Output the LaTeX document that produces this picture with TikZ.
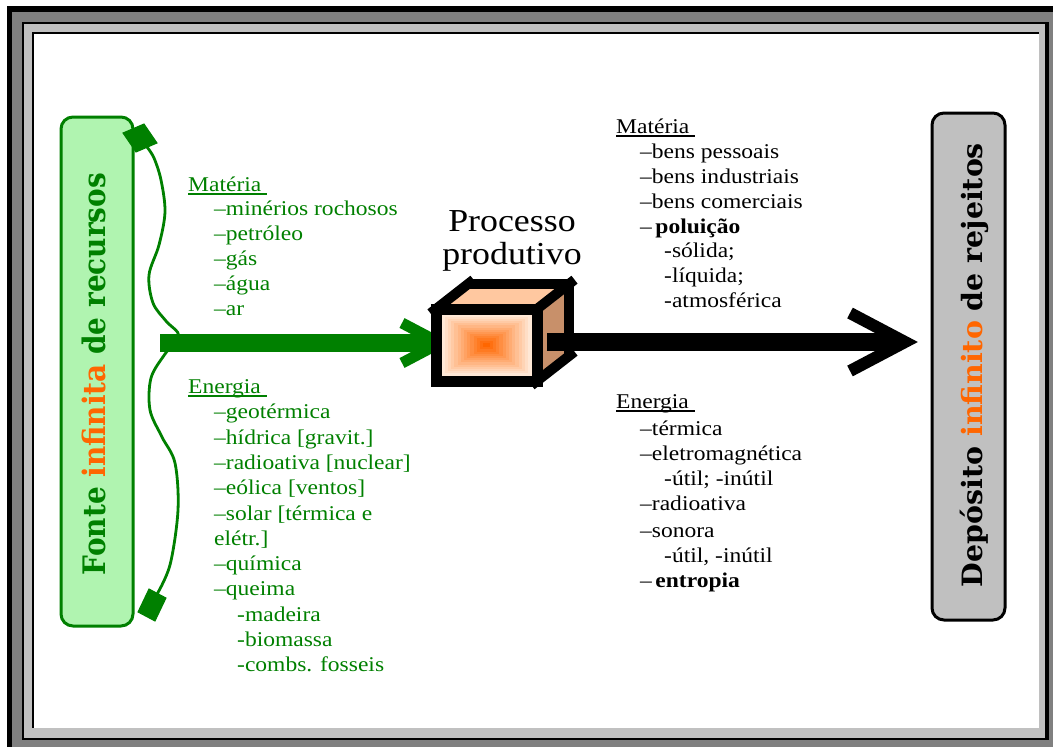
\documentclass[tikz,border=0pt]{standalone}
\usepackage{fontspec}
\setmainfont{Liberation Serif}[FakeStretch=1.12]
\newfontfamily\slabfont{DejaVu Serif}
\usetikzlibrary{calc}

\definecolor{leafgreen}{RGB}{0,128,0}
\definecolor{flame}{RGB}{255,102,0}
\definecolor{frameGray}{RGB}{128,128,128}
\definecolor{frameLight}{RGB}{192,192,192}
\definecolor{peach}{RGB}{255,200,160}
\definecolor{boxtan}{RGB}{200,144,106}
\definecolor{paleorange}{RGB}{255,232,214}
\definecolor{palegreen}{RGB}{176,244,176}
\definecolor{mistgreen}{RGB}{244,255,244}

% word with a rule at a fixed depth below the baseline
\newcommand\ulword[1]{\setbox0\hbox{#1}\rlap{\rule[-3.5pt]{\wd0}{1.3pt}}\box0}

\begin{document}
\begin{tikzpicture}[x=1pt,y=-1pt,
  listtext/.style={anchor=base west, inner sep=0pt, font=\fontsize{21}{25}\selectfont},
  srcbox/.style={draw=leafgreen, line width=3pt, rounded corners=12pt, inner sep=0pt,
    top color=palegreen, middle color=mistgreen, bottom color=palegreen},
  sinkbox/.style={draw=black, line width=3pt, rounded corners=12pt, inner sep=0pt,
    top color=frameLight, middle color=white!96!black, bottom color=frameLight},
  bracecurve/.style={leafgreen, line width=2.8pt},
  diamondtip/.style={fill=leafgreen, draw=leafgreen, line width=1pt, line join=miter},
  cubeedge/.style={black, line width=10pt, line join=miter},
  cubediag/.style={black, line width=10pt, shorten <=-7pt, shorten >=-7pt},
  chevron/.style={line width=#1, line join=miter},
]
\useasboundingbox (0,0) rectangle (1053,747);

% bevelled frame
\fill[frameGray] (7,6) rectangle (1053,747);
\fill[black] (7,6) rectangle (1053,12);
\fill[black] (7,6) rectangle (12,747);
\fill[black] (22,22) rectangle (1049,740);
\fill[frameLight] (24,24) rectangle (1045,738);
\fill[black] (32,32) rectangle (1039,728);
\fill[white] (34,34) rectangle (1039,728);

% source column
\node[srcbox, minimum width=72pt, minimum height=509pt] (src) at (97,371.5) {};
\node[rotate=90, anchor=base, inner sep=0pt, text=leafgreen] (srctext) at (105,374)
  {\resizebox{402pt}{\height}{\fontsize{31}{31}\slabfont\bfseries Fonte \textcolor{flame}{infinita} de recursos}};

% sink column
\node[sinkbox, minimum width=73pt, minimum height=507pt] (sink) at (968.5,366.5) {};
\node[rotate=90, anchor=base, inner sep=0pt] (sinktext) at (982,365)
  {\resizebox{444pt}{\height}{\fontsize{28}{28}\slabfont\bfseries Dep\'osito \textcolor{flame}{infinito} de rejeitos}};

% brace gathering the resources, with a diamond at each end
\coordinate (b-top) at (123,133);
\coordinate (b-bot) at (138,612);
\draw[bracecurve] plot[smooth, tension=0.55] coordinates {($(b-top)+(24,14)$) (154,158) (161,180)
  (165,212) (159,245) (149,275) (153,303) (166,321) (179,336) (165,354) (151,378) (150,410)
  (162,437) (175,463) (178,510) (170,565) ($(b-bot)+(18,-16)$)};
\draw[diamondtip] (b-top) -- ++(21,-9) -- ++(13,19) -- ++(-21,9) -- cycle;
\draw[diamondtip] (b-bot) -- ++(11,-23) -- ++(17,9) -- ++(-11,23) -- cycle;

% inputs
\foreach \x/\y/\t [count=\k] in {
  188/191/{\ulword{Matéria\ }},
  214/215/{–minérios rochosos},
  214/240/{–petróleo},
  214/265/{–gás},
  214/290/{–água},
  214/315/{–ar},
  188/393/{\ulword{Energia\ }},
  214/418/{–geotérmica},
  214/444/{–hídrica [gravit.]},
  214/469/{–radioativa [nuclear]},
  214/494/{–eólica [ventos]},
  214/520/{–solar [térmica e},
  214/545/{elétr.]},
  214/570/{–química},
  214/595/{–queima},
  237/621/{-madeira},
  237/646/{-biomassa},
  237/671/{-combs. fosseis}}
  \node[listtext, text=leafgreen] (in-\k) at (\x,\y) {\t};

% outputs
\foreach \x/\y/\t [count=\k] in {
  616/133/{\ulword{Matéria\ }},
  640/158/{–bens pessoais},
  640/183/{–bens industriais},
  640/208/{–bens comerciais},
  640/233/{–\,\textbf{poluição}},
  664/257/{-sólida;},
  664/282/{-líquida;},
  664/307/{-atmosférica},
  616/408/{\ulword{Energia\ }},
  640/435/{–térmica},
  640/460/{–eletromagnética},
  664/485/{-útil; -inútil},
  640/510/{–radioativa},
  640/537/{–sonora},
  664/562/{-útil, -inútil},
  640/587/{–\,\textbf{entropia}}}
  \node[listtext] (out-\k) at (\x,\y) {\t};

% process title
\node[anchor=base, inner sep=0pt, font=\fontsize{32}{32}\selectfont] (proc-a) at (512,231) {Processo};
\node[anchor=base, inner sep=0pt, font=\fontsize{32}{32}\selectfont] (proc-b) at (512,264) {produtivo};

% green input arrow
\coordinate (cubec) at (486.5,345);
\coordinate (g-start) at (160,343);
\coordinate (g-tip) at (440,343);
\draw[leafgreen, line width=18pt] (g-start) -- (g-tip);
\draw[leafgreen, chevron=11pt] ($(g-tip)+(-38,-20)$) -- (g-tip) -- ($(g-tip)+(-38,20)$);

% cube: faces
\fill[peach] (436,309) -- (468,284) -- (569,284) -- (537,309) -- cycle;
\fill[boxtan] (537,309) -- (569,284) -- (569,356) -- (537,381) -- cycle;
\foreach \i in {0,...,13}{
  \pgfmathsetmacro\f{1-\i/14}
  \pgfmathsetmacro\p{100*\i/13}
  \fill[flame!\p!paleorange] ($(cubec)+(-45*\f,-30.5*\f)$) rectangle ($(cubec)+(45*\f,30.5*\f)$);
}
\node[draw=black, line width=11pt, minimum width=101pt, minimum height=72pt, inner sep=0pt, outer sep=0pt] (cube) at (cubec) {};
% cube: back edges and the three receding edges
\draw[cubeedge] ($(cube.north west)+(32,-25)$) -- ++(101,0) -- ++(0,72);
\draw[cubediag] (cube.north west) -- ++(32,-25);
\draw[cubediag] (cube.north east) -- ++(32,-25);
\draw[cubediag] (cube.south east) -- ++(32,-25);

% black output arrow
\coordinate (k-start) at ($(cube.east)+(10,-3)$);
\coordinate (k-tip) at (905,342);
\draw[black, line width=18pt] (k-start) -- ($(k-tip)+(-8,0)$);
\draw[black, chevron=12pt] ($(k-tip)+(-55,-29)$) -- (k-tip) -- ($(k-tip)+(-55,29)$);
\end{tikzpicture}
\end{document}
